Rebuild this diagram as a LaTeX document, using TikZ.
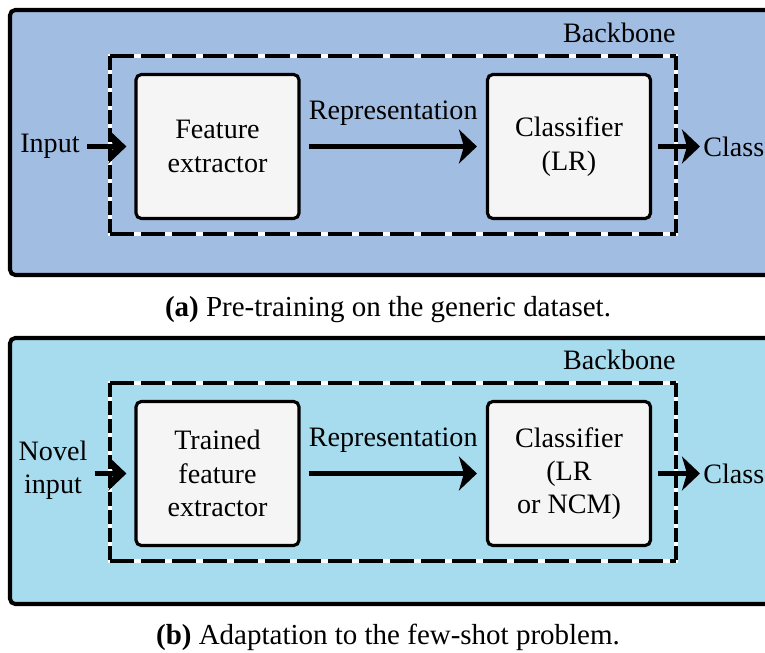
\documentclass[tikz,border=0pt]{standalone}
\usepackage{fontspec}
\setmainfont{Liberation Serif}
\usetikzlibrary{arrows.meta,positioning}
\definecolor{pretraincol}{RGB}{161,189,225}
\definecolor{adaptcol}{RGB}{167,219,238}
\definecolor{blockcol}{RGB}{245,245,245}

\tikzset{
  panel/.style={draw=black, line width=2.3pt, rounded corners=3pt},
  block/.style={draw=black, fill=blockcol, line width=1.8pt, rounded corners=3pt,
    minimum width=3.26cm, minimum height=2.88cm, align=center, inner sep=0pt,
    font=\fontsize{16}{19}\selectfont},
  txt/.style={align=center, inner sep=0pt, font=\fontsize{16}{19}\selectfont},
  captxt/.style={inner sep=0pt, font=\fontsize{16.5}{19}\selectfont},
  flow/.style={line width=2.9pt, -{Stealth[length=0.36cm, width=0.68cm, inset=0.1cm]}},
  hdash/.style={line width=2pt, dash pattern=on 13.7pt off 4pt},
  vdash/.style={line width=2pt, dash pattern=on 8pt off 2.3pt},
}

% dashed backbone frame: black dashes on a white line
\newcommand{\backboneframe}[4]{%
  \draw[white, line width=2pt] (#1,#2) rectangle (#3,#4);
  \draw[hdash] (#1,#2) -- (#3,#2) (#1,#4) -- (#3,#4);
  \draw[vdash] (#1,#2) -- (#1,#4) (#3,#2) -- (#3,#4);
}

\begin{document}
\begin{tikzpicture}[x=0.02cm, y=-0.02cm]

    \useasboundingbox (0,0) rectangle (765,653);
    \clip (0,0) rectangle (765,653);

    % (a) pre-training
    \draw[panel, fill=pretraincol] (10,10) rectangle (800,275);
    \backboneframe{110}{56}{676}{234}
    \coordinate (frameA) at (676,56);
    \node[txt, anchor=south east] (backboneA) at ([yshift=0.26cm]frameA) {Backbone};

    \node[block] (featA) at (217.5,146.5) {Feature\\extractor};
    \node[block] (clsA) at (569,146.5) {Classifier\\(LR)};
    \node[txt] (inA) at (50,146.5) {Input};
    \node[txt, anchor=west] (outA) at (703,146.5) {Class};

    \draw[flow, shorten <=0.14cm, shorten >=0.16cm] (inA) -- (featA);
    \draw[flow, shorten <=0.16cm, shorten >=0.18cm] (featA) -- (clsA)
        node[txt, midway, above=0.36cm] (repA) {Representation};
    \draw[flow, shorten <=0.12cm, shorten >=0.06cm] (clsA) -- (outA);

    \node[captxt] (capA) at (388,310) {\textbf{(a)} Pre-training on the generic dataset.};

    % (b) adaptation
    \draw[panel, fill=adaptcol] (10,338) rectangle (800,604);
    \backboneframe{110}{383}{676}{561}
    \coordinate (frameB) at (676,383);
    \node[txt, anchor=south east] (backboneB) at ([yshift=0.26cm]frameB) {Backbone};

    \node[block] (featB) at (217.5,473.5) {Trained\\feature\\extractor};
    \node[block] (clsB) at (569,473.5) {Classifier\\(LR\\or NCM)};
    \node[txt] (inB) at (53,470) {Novel\\input};
    \node[txt, anchor=west] (outB) at (703,473.5) {Class};

    \draw[flow, shorten <=0.14cm, shorten >=0.16cm] (inB.east |- featB) -- (featB);
    \draw[flow, shorten <=0.16cm, shorten >=0.18cm] (featB) -- (clsB)
        node[txt, midway, above=0.36cm] (repB) {Representation};
    \draw[flow, shorten <=0.12cm, shorten >=0.06cm] (clsB) -- (outB);

    \node[captxt] (capB) at (388,637) {\textbf{(b)} Adaptation to the few-shot problem.};

\end{tikzpicture}
\end{document}
